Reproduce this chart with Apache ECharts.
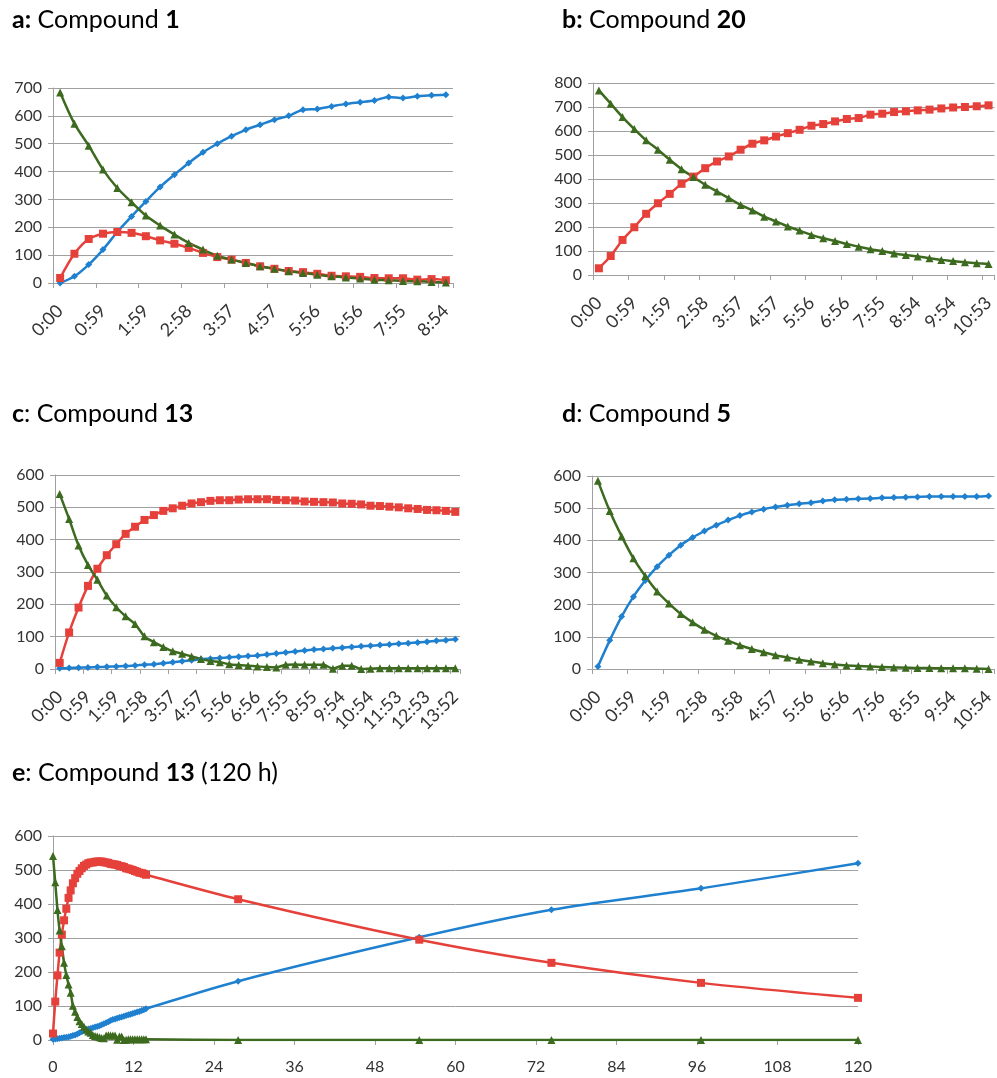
<!DOCTYPE html>
<html>
<head>
<meta charset="utf-8">
<script src="https://cdn.jsdelivr.net/npm/echarts@6/dist/echarts.min.js"></script>
<style>
  html, body { margin: 0; padding: 0; background: #ffffff; }
  #chart { width: 997px; height: 1078px; }
</style>
</head>
<body>
<div id="chart"></div>
<script>
// ---- time stamps (h:mm) for each sampling point ----
const timesA = ["0:00","0:20","0:40","0:59","1:19","1:39","1:59","2:19","2:38","2:58","3:18","3:38","3:57","4:17","4:37","4:57","5:16","5:36","5:56","6:16","6:36","6:56","7:15","7:35","7:55","8:14","8:34","8:54"];
const timesB = ["0:00","0:20","0:40","0:59","1:19","1:39","1:59","2:19","2:38","2:58","3:18","3:38","3:57","4:17","4:37","4:57","5:16","5:36","5:56","6:16","6:36","6:56","7:15","7:35","7:55","8:14","8:34","8:54","9:14","9:34","9:54","10:14","10:33","10:53"];
const timesC = ["0:00","0:20","0:40","0:59","1:19","1:39","1:59","2:19","2:38","2:58","3:18","3:38","3:57","4:17","4:37","4:57","5:16","5:36","5:56","6:16","6:36","6:56","7:15","7:35","7:55","8:15","8:35","8:55","9:15","9:34","9:54","10:14","10:34","10:54","11:14","11:33","11:53","12:13","12:33","12:53","13:13","13:32","13:52"];
const timesD = ["0:00","0:20","0:40","0:59","1:19","1:39","1:59","2:19","2:38","2:58","3:18","3:38","3:58","4:17","4:37","4:57","5:16","5:36","5:56","6:16","6:36","6:56","7:16","7:36","7:56","8:15","8:35","8:55","9:15","9:34","9:54","10:14","10:34","10:54"];

// ---- a: Compound 1 ----
const aBlue  = [0,24,66,120,183,239,293,345,389,431,469,500,527,550,568,586,600,622,625,634,643,649,655,668,664,670,674,676];
const aRed   = [18,105,158,177,183,180,168,153,141,126,108,93,84,72,60,51,43,39,33,26,24,22,18,17,17,12,14,10];
const aGreen = [684,572,493,407,341,290,242,206,174,144,120,98,84,72,60,51,42,36,30,24,20,16,12,10,7,6,4,2];

// ---- b: Compound 20 ----
const bRed   = [28,79,146,199,255,299,338,380,410,445,473,494,522,547,561,577,591,605,622,629,640,650,654,668,672,679,682,686,689,694,698,700,703,707];
const bGreen = [769,714,658,608,561,522,480,441,408,376,348,320,292,269,243,223,202,185,167,153,142,129,118,107,100,90,83,77,70,63,58,53,49,46];

// ---- c: Compound 13 ----
const cBlue  = [2,3,4,5,6,7,8,9,11,13,15,18,21,24,27,30,32,34,36,38,40,42,45,48,51,54,57,60,62,64,66,68,70,72,74,76,78,80,82,84,87,89,92];
const cRed   = [19,113,190,257,310,352,386,418,440,461,476,489,497,505,512,516,520,522,522,524,525,525,525,523,522,521,518,517,516,515,512,511,509,505,504,502,500,497,495,492,491,489,486];
const cGreen = [541,464,382,322,276,227,191,163,139,101,83,68,55,47,39,31,25,21,15,12,10,8,6,5,13,14,13,13,13,1,10,10,0,1,2,2,2,2,2,2,2,2,2];

// ---- d: Compound 5 ----
const dBlue  = [8,89,163,225,275,318,354,385,409,429,447,463,477,488,497,504,509,514,517,522,526,528,529,530,532,533,534,535,536,536,536,536,536,538];
const dGreen = [585,491,413,344,289,241,204,171,145,122,103,88,74,62,52,43,36,29,23,18,14,11,9,8,6,5,4,3,3,2,2,2,1,0];

// ---- e: Compound 13, long run (late samples in hours) ----
const eLateHours = [27.6,54.6,74.3,96.6,120];
const eLateBlue  = [173,302,383,446,520];
const eLateRed   = [414,295,227,168,124];
const eLateGreen = [0,0,0,0,0];

// ---- styling ----
const FONT = 'Lato, "Open Sans", sans-serif';
const TEXT = '#333333';
const GRID = '#a0a0a0';
const BLUE = '#1f80cf';
const RED = '#e5413a';
const GREEN = '#3c6a1f';

function hours(t) {
  const p = t.split(':');
  return Number(p[0]) + Number(p[1]) / 60;
}
function pairs(xs, ys) {
  return xs.map((x, i) => [x, ys[i]]);
}

const grids = [
  { left: 53,  top: 88,  width: 400, height: 195 },
  { left: 593, top: 83,  width: 404, height: 192 },
  { left: 55,  top: 475, width: 405, height: 194 },
  { left: 592, top: 476, width: 405, height: 193 },
  { left: 53,  top: 836, width: 805, height: 204 }
];

function catAxis(gi, data) {
  return {
    type: 'category', gridIndex: gi, data: data, boundaryGap: true,
    axisLine: { show: true, lineStyle: { color: GRID, width: 1 } },
    axisTick: { show: true, interval: 2, length: 5, lineStyle: { color: GRID } },
    axisLabel: { interval: 2, rotate: 45, margin: 25, fontSize: 18, color: TEXT, fontFamily: FONT },
    splitLine: { show: false }
  };
}
function valAxis(gi, max) {
  return {
    type: 'value', gridIndex: gi, min: 0, max: max, interval: 100,
    axisLine: { show: true, lineStyle: { color: GRID, width: 1 } },
    axisTick: { show: true, length: 5, lineStyle: { color: GRID } },
    axisLabel: { margin: 11, fontSize: 16, color: TEXT, fontFamily: FONT },
    splitLine: { show: true, lineStyle: { color: GRID, width: 1 } }
  };
}

function line(gi, data, color, symbol, size) {
  return {
    type: 'line', xAxisIndex: gi, yAxisIndex: gi, data: data,
    smooth: 0.3, symbol: symbol, symbolSize: size, showSymbol: true, showAllSymbol: true,
    lineStyle: { color: color, width: 2.5 },
    itemStyle: { color: color, borderWidth: 0 },
    emphasis: { disabled: true }
  };
}
const blue  = (gi, d) => line(gi, d, BLUE, 'diamond', 7);
const red   = (gi, d) => line(gi, d, RED, 'rect', 8);
const green = (gi, d) => line(gi, d, GREEN, 'triangle', 8);

// e combines the early 20-minute samples with the late samples
const eHours = timesC.map(hours).concat(eLateHours);
const eBlue  = pairs(eHours, cBlue.concat(eLateBlue));
const eRed   = pairs(eHours, cRed.concat(eLateRed));
const eGreen = pairs(eHours, cGreen.concat(eLateGreen));

const TSIZE = 25;
const titleRich = { b: { fontWeight: 'bold', fontSize: TSIZE, fontFamily: FONT, color: '#000' } };
function title(text, left, top) {
  return {
    text: text, left: left, top: top, padding: 0,
    textStyle: { fontSize: TSIZE, fontWeight: 'normal', fontFamily: FONT, color: '#000', rich: titleRich }
  };
}

const option = {
  animation: false,
  backgroundColor: '#ffffff',
  title: [
    title('{b|a:} Compound {b|1}', 12, 7),
    title('{b|b:} Compound {b|20}', 562, 7),
    title('{b|c}: Compound {b|13}', 12, 401),
    title('{b|d}: Compound {b|5}', 562, 401),
    title('{b|e}: Compound {b|13} (120 h)', 12, 760)
  ],
  grid: grids,
  xAxis: [
    catAxis(0, timesA),
    catAxis(1, timesB),
    catAxis(2, timesC),
    catAxis(3, timesD),
    {
      type: 'value', gridIndex: 4, min: 0, max: 120, interval: 12,
      axisLine: { show: true, lineStyle: { color: GRID, width: 1 } },
      axisTick: { show: true, length: 5, lineStyle: { color: GRID } },
      axisLabel: { margin: 19, fontSize: 16, color: TEXT, fontFamily: FONT },
      splitLine: { show: false }
    }
  ],
  yAxis: [valAxis(0, 700), valAxis(1, 800), valAxis(2, 600), valAxis(3, 600), valAxis(4, 600)],
  series: [
    blue(0, aBlue), red(0, aRed), green(0, aGreen),
    red(1, bRed), green(1, bGreen),
    blue(2, cBlue), red(2, cRed), green(2, cGreen),
    blue(3, dBlue), green(3, dGreen),
    blue(4, eBlue), red(4, eRed), green(4, eGreen)
  ]
};

const chart = echarts.init(document.getElementById('chart'), null, { renderer: 'canvas' });
chart.setOption(option);
</script>
</body>
</html>
